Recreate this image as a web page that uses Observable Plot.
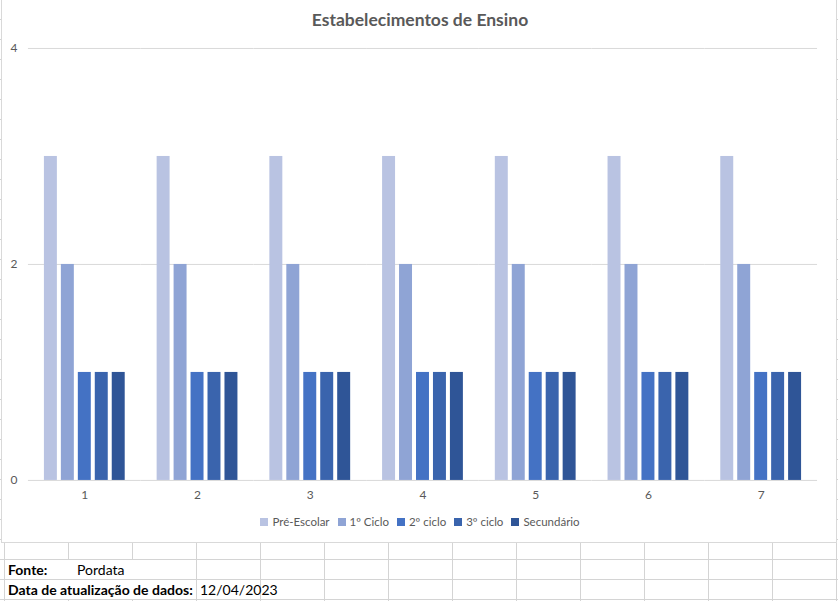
<!DOCTYPE html>
<html>
<head>
<meta charset="utf-8">
<script src="https://cdn.jsdelivr.net/npm/d3@7"></script>
<script src="https://cdn.jsdelivr.net/npm/@observablehq/plot@0.6"></script>
<style>
  html, body { margin: 0; padding: 0; background: #fff; }
  body { width: 838px; height: 601px; position: relative; overflow: hidden; font-family: Lato, "Open Sans", sans-serif; }
  .hline { position: absolute; left: 0; width: 838px; height: 1px; background: #d4d4d4; }
  .vline { position: absolute; top: 0; width: 1px; height: 601px; background: #d4d4d4; }
  #chart { position: absolute; left: 1px; top: 0; width: 834px; height: 542px; background: #fff; border: 1px solid #d9d9d9; border-top: none; }
  #title { position: absolute; left: 0; width: 836px; top: 9px; text-align: center; font-size: 17.5px; font-weight: bold; color: #595959; }
  #plot { position: absolute; left: -2px; top: 38px; }
  #plot svg { background: transparent; overflow: visible; }
  #plot svg text { fill: #595959; }
  #plot g[aria-label="y-grid"] line, #plot g[aria-label="y-grid"] { stroke: #d9d9d9; stroke-opacity: 1; }
  #legend { position: absolute; left: 0; width: 836px; top: 515px; display: flex; justify-content: center; font-size: 11.5px; color: #595959; }
  .item { display: flex; align-items: center; margin: 0 4px; }
  .sw { width: 8px; height: 8px; margin-right: 4px; }
  .cell { position: absolute; font-size: 14px; color: #000; line-height: 19px; white-space: nowrap; }
</style>
</head>
<body>
<div id="sheet"></div>
<div id="chart">
  <div id="title">Estabelecimentos de Ensino</div>
  <div id="plot"></div>
  <div id="legend"></div>
</div>
<div class="cell" style="left:5px; top:560px; width:62px; background:#fff; padding-left:3px; font-weight:bold;">Fonte:</div>
<div class="cell" style="left:69px; top:560px; width:59px; background:#fff; padding-left:8px;">Pordata</div>
<div class="cell" style="left:5px; top:580px; width:188px; background:#fff; padding-left:3px; font-weight:bold;">Data de atualização de dados:</div>
<div class="cell" style="left:197px; top:580px; width:60px; background:#fff; padding-left:3px;">12/04/2023</div>
<script>
// ---- data ----
const groups = ["1", "2", "3", "4", "5", "6", "7"];
const series = ["Pré-Escolar", "1º Ciclo", "2º ciclo", "3º ciclo", "Secundário"];
const preEscolar = [3, 3, 3, 3, 3, 3, 3];
const primeiroCiclo = [2, 2, 2, 2, 2, 2, 2];
const segundoCiclo = [1, 1, 1, 1, 1, 1, 1];
const terceiroCiclo = [1, 1, 1, 1, 1, 1, 1];
const secundario = [1, 1, 1, 1, 1, 1, 1];
const yTicks = [0, 2, 4];
const colors = ["#b9c3e2", "#8fa4d5", "#4472c4", "#3a64ad", "#2f5597"];

const seriesValues = [preEscolar, primeiroCiclo, segundoCiclo, terceiroCiclo, secundario];
const data = groups.flatMap((g, i) => series.map((s, j) => ({group: g, series: s, value: seriesValues[j][i]})));

// ---- spreadsheet grid ----
const sheet = document.getElementById("sheet");
for (let y = 19; y < 601; y += 20) {
  const d = document.createElement("div"); d.className = "hline"; d.style.top = y + "px"; sheet.appendChild(d);
}
for (let x = 4; x < 838; x += 64) {
  const d = document.createElement("div"); d.className = "vline"; d.style.left = x + "px"; sheet.appendChild(d);
}

// ---- chart ----
const chart = Plot.plot({
  width: 838,
  height: 473,
  marginTop: 10,
  marginBottom: 30,
  marginLeft: 27,
  marginRight: 18,
  style: {fontFamily: "Lato, 'Open Sans', sans-serif", fontSize: "12px", background: "transparent", color: "#595959"},
  fx: {domain: groups, padding: 0, label: null, tickSize: 0, tickPadding: 10},
  x: {domain: series, paddingInner: 0.23, paddingOuter: 0.85, axis: null},
  y: {domain: [0, 4], ticks: yTicks, tickFormat: (d) => String(d), tickSize: 0, tickPadding: 11, label: null, grid: true},
  color: {domain: series, range: colors},
  marks: [
    Plot.barY(data, {fx: "group", x: "series", y: "value", fill: "series"})
  ]
});
document.getElementById("plot").appendChild(chart);

// ---- legend ----
const legend = document.getElementById("legend");
const colorScale = chart.scale("color");
series.forEach((s) => {
  const it = document.createElement("div"); it.className = "item";
  const sw = document.createElement("div"); sw.className = "sw"; sw.style.background = colorScale.apply(s);
  const t = document.createElement("span"); t.textContent = s;
  it.appendChild(sw); it.appendChild(t); legend.appendChild(it);
});
</script>
</body>
</html>
